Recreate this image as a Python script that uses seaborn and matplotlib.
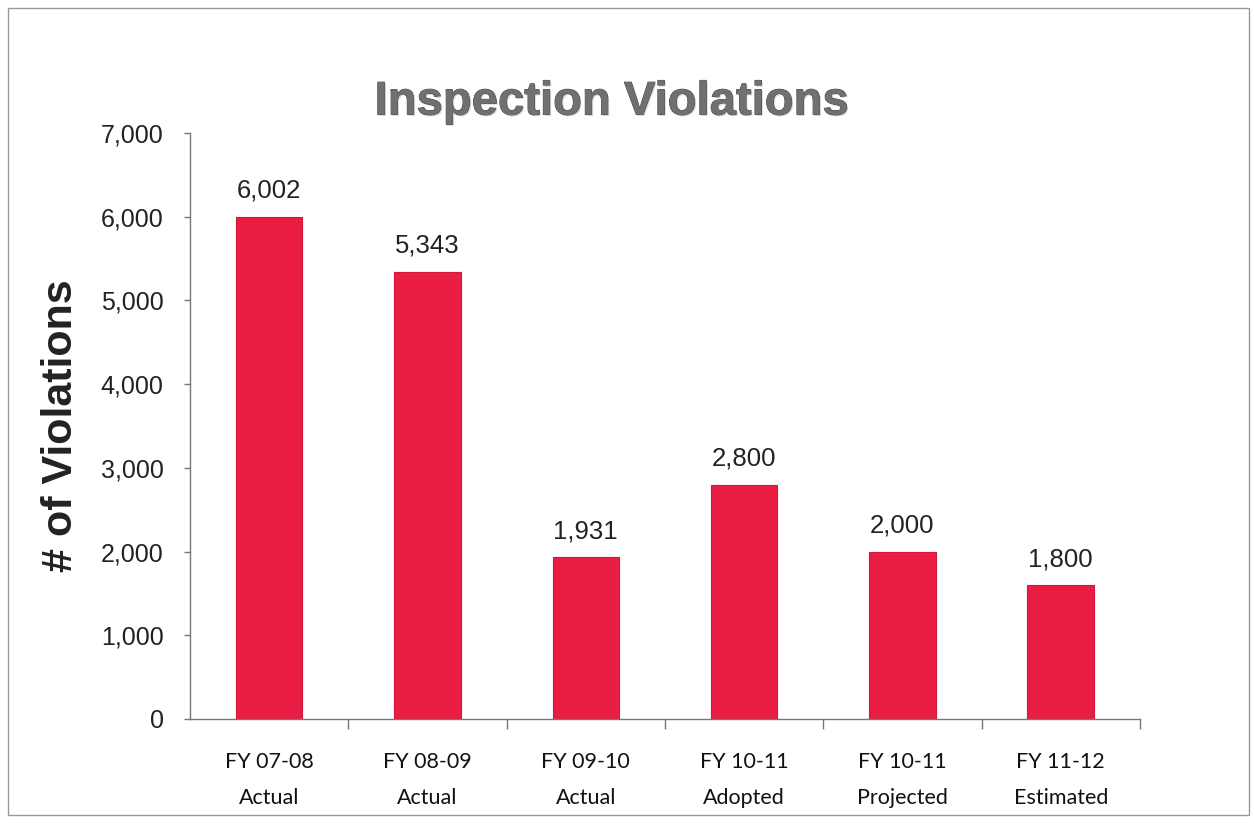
import matplotlib
matplotlib.use("Agg")
import matplotlib.pyplot as plt
import matplotlib.patheffects as pe
import seaborn as sns
import pandas as pd
from matplotlib.ticker import FuncFormatter, FixedLocator
from matplotlib.patches import Rectangle

categories = ["FY 07-08\nActual", "FY 08-09\nActual", "FY 09-10\nActual",
              "FY 10-11\nAdopted", "FY 10-11\nProjected", "FY 11-12\nEstimated"]
values = [6002, 5343, 1931, 2800, 2000, 1600]
value_labels = ["6,002", "5,343", "1,931", "2,800", "2,000", "1,800"]
yticks = [0, 1000, 2000, 3000, 4000, 5000, 6000, 7000]
title = "Inspection Violations"
ylabel = "# of Violations"

sns.set_theme(style="white")
plt.rcParams['font.family'] = ['Liberation Sans', 'DejaVu Sans']

fig = plt.figure(figsize=(12.54, 8.27), dpi=100)
ax = fig.add_axes([0.1515, 0.1306, 0.7575, 0.7086])

df = pd.DataFrame({"cat": categories, "val": values})
sns.barplot(data=df, x="cat", y="val", ax=ax, color="#EA1E44", width=0.42,
            edgecolor="#D0163A", linewidth=0.8, saturation=1)

ax.set_ylim(0, 7000)
ax.set_xlim(-0.5, len(categories) - 0.5)
ax.yaxis.set_major_locator(FixedLocator(yticks))
ax.yaxis.set_major_formatter(FuncFormatter(lambda v, p: f"{int(v):,}"))
ax.tick_params(axis="y", labelsize=18, length=4, width=1, color="#777777",
               direction="out", left=True, pad=15, labelcolor="#222222")
ax.tick_params(axis="x", length=0, pad=24, labelsize=15.5, labelcolor="#111111")
for lab in ax.get_xticklabels():
    lab.set_fontfamily(['Lato', 'DejaVu Sans'])
    lab.set_linespacing(1.95)
# minor ticks at category boundaries
ax.set_xticks([i + 0.5 for i in range(len(categories))], minor=True)
ax.tick_params(axis="x", which="minor", length=7, width=1, color="#777777",
               direction="out", bottom=True)
ax.set_xlabel("")
ax.set_ylabel(ylabel, fontsize=31, fontweight="bold", color="#222222", labelpad=14)

for s in ["top", "right"]:
    ax.spines[s].set_visible(False)
for s in ["left", "bottom"]:
    ax.spines[s].set_color("#777777")
    ax.spines[s].set_linewidth(1)

for i, (v, t) in enumerate(zip(values, value_labels)):
    ax.annotate(t, xy=(i, v), xytext=(0, 10), textcoords="offset points",
                ha="center", va="bottom", fontsize=18.5, color="#222222")

fig.text(0.488, 0.876, title, ha="center", va="center", fontsize=34,
         fontweight="bold", color="#707070",
         path_effects=[pe.withSimplePatchShadow(offset=(1.0, -1.0), shadow_rgbFace="#cccccc", alpha=0.8),
                       pe.withStroke(linewidth=0.6, foreground="#444444")])

fig.patches.append(Rectangle((0.006, 0.015), 0.99, 0.975, transform=fig.transFigure,
                             fill=False, edgecolor="#999999", linewidth=1))

fig.savefig("out.png", dpi=100)
